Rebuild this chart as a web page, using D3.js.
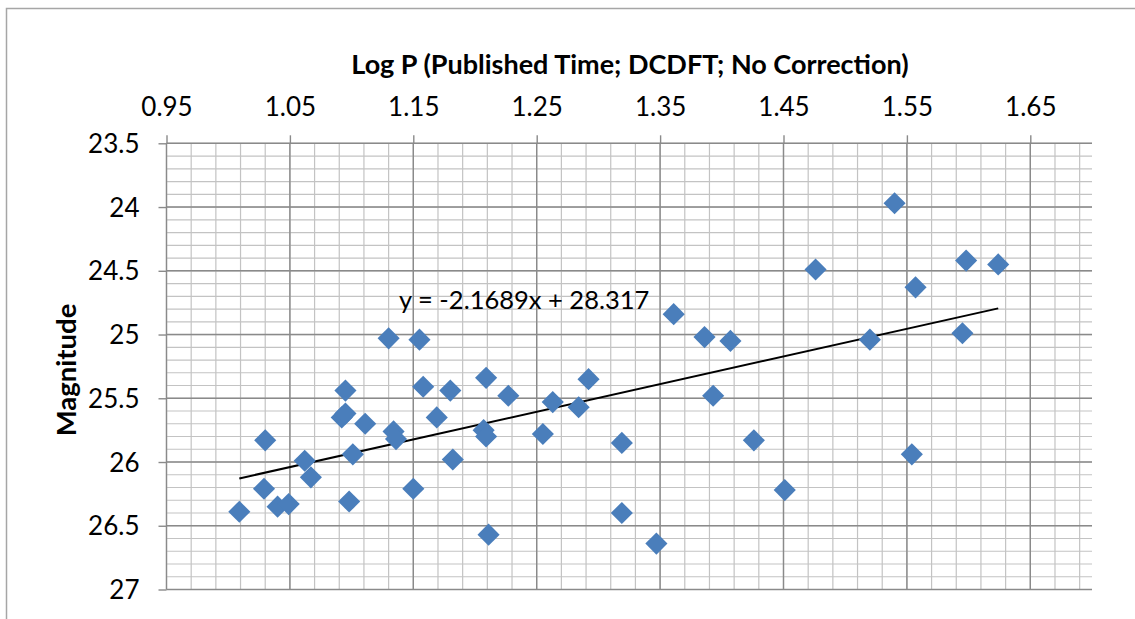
<!DOCTYPE html>
<html>
<head>
<meta charset="utf-8">
<script src="https://cdn.jsdelivr.net/npm/d3@7"></script>
<style>
  body { margin: 0; background: #fff; }
  text { font-family: Lato, "Open Sans", sans-serif; fill: #000; }
</style>
</head>
<body>
<div id="chart"></div>
<script>
// log P values (x)
var logP = [
  1.009, 1.030, 1.029, 1.040, 1.049, 1.062, 1.067, 1.098, 1.095, 1.092,
  1.095, 1.101, 1.111, 1.130, 1.134, 1.136, 1.150, 1.155, 1.158, 1.169,
  1.180, 1.182, 1.209, 1.207, 1.209, 1.211, 1.227, 1.255, 1.263, 1.284,
  1.292, 1.319, 1.319, 1.347, 1.361, 1.386, 1.393, 1.407, 1.426, 1.451,
  1.476, 1.520, 1.540, 1.554, 1.557, 1.595, 1.598, 1.624
];
// magnitudes (y)
var magnitude = [
  26.39, 25.83, 26.21, 26.35, 26.33, 25.99, 26.12, 26.31, 25.44, 25.65,
  25.62, 25.94, 25.70, 25.03, 25.76, 25.82, 26.21, 25.04, 25.41, 25.65,
  25.44, 25.98, 25.34, 25.75, 25.80, 26.57, 25.48, 25.78, 25.53, 25.57,
  25.35, 25.85, 26.40, 26.64, 24.84, 25.02, 25.48, 25.05, 25.83, 26.22,
  24.49, 25.04, 23.97, 25.94, 24.63, 24.99, 24.42, 24.45
];
var xTicks = [0.95, 1.05, 1.15, 1.25, 1.35, 1.45, 1.55, 1.65];
var yTicks = [23.5, 24, 24.5, 25, 25.5, 26, 26.5, 27];
var trendSlope = -2.1689, trendIntercept = 28.317;

var W = 1135, H = 619;
var margin = { left: 166.5, top: 143.3, right: W - 1092, bottom: H - 589.5 };
var width = W - margin.left - margin.right,
  height = H - margin.top - margin.bottom;

var svg = d3.select("#chart").append("svg")
  .attr("width", W).attr("height", H);

// chart border (runs off the right/bottom edges like the original)
svg.append("rect")
  .attr("x", 6.5).attr("y", 8.5)
  .attr("width", W + 20).attr("height", H + 20)
  .attr("fill", "#fff").attr("stroke", "#a6a6a6").attr("stroke-width", 1.5);

var g = svg.append("g")
  .attr("transform", "translate(" + margin.left + "," + margin.top + ")");

var x = d3.scaleLinear().domain([0.95, 1.70]).range([0, width]);
var y = d3.scaleLinear().domain([23.5, 27]).range([0, height]);

// minor grid
var xMinor = d3.range(0, 38).map(function (i) { return +(0.95 + i * 0.02).toFixed(2); });
var yMinor = d3.range(0, 36).map(function (i) { return +(23.5 + i * 0.1).toFixed(1); });

g.selectAll(".vminor").data(xMinor).enter().append("line")
  .attr("x1", function (d) { return x(d); }).attr("x2", function (d) { return x(d); })
  .attr("y1", 0).attr("y2", height)
  .attr("stroke", "#c3c3c3").attr("stroke-width", 1.2);
g.selectAll(".hminor").data(yMinor).enter().append("line")
  .attr("y1", function (d) { return y(d); }).attr("y2", function (d) { return y(d); })
  .attr("x1", 0).attr("x2", width)
  .attr("stroke", "#c3c3c3").attr("stroke-width", 1.2);

// major grid
g.selectAll(".vmajor").data(xTicks).enter().append("line")
  .attr("x1", function (d) { return x(d); }).attr("x2", function (d) { return x(d); })
  .attr("y1", 0).attr("y2", height)
  .attr("stroke", "#8a8a8a").attr("stroke-width", 1.4);
g.selectAll(".hmajor").data(yTicks).enter().append("line")
  .attr("y1", function (d) { return y(d); }).attr("y2", function (d) { return y(d); })
  .attr("x1", 0).attr("x2", width)
  .attr("stroke", "#8a8a8a").attr("stroke-width", 1.4);

// axes on top and left
var xAxis = d3.axisTop(x).tickValues(xTicks).tickSize(8).tickPadding(19)
  .tickFormat(d3.format(".2f"));
var yAxis = d3.axisLeft(y).tickValues(yTicks).tickSize(8).tickPadding(19)
  .tickFormat(function (d) { return String(d); });

var gx = g.append("g").call(xAxis);
var gy = g.append("g").call(yAxis);
[gx, gy].forEach(function (a) {
  a.select(".domain").remove();
  a.selectAll("line").attr("stroke", "#8a8a8a").attr("stroke-width", 1.4);
  a.selectAll("text").style("font-size", "26px").attr("fill", "#000");
});
gx.selectAll("text").attr("dy", 0);
gy.selectAll("text").attr("dy", "0.35em");

// trend line
var xExt = d3.extent(logP);
g.append("line")
  .attr("x1", x(xExt[0])).attr("y1", y(trendSlope * xExt[0] + trendIntercept))
  .attr("x2", x(xExt[1])).attr("y2", y(trendSlope * xExt[1] + trendIntercept))
  .attr("stroke", "#000").attr("stroke-width", 2);

// points
var diamond = d3.symbol().type(d3.symbolSquare).size(245);
g.selectAll(".pt").data(logP).enter().append("path")
  .attr("d", diamond)
  .attr("transform", function (d, i) {
    return "translate(" + x(d) + "," + y(magnitude[i]) + ") rotate(45)";
  })
  .attr("fill", "#4a7ebb");

// equation label
svg.append("text")
  .attr("x", 399).attr("y", 309)
  .style("font-size", "25.5px")
  .text("y = -2.1689x + 28.317");

// titles
svg.append("text")
  .attr("x", 630).attr("y", 74)
  .attr("text-anchor", "middle")
  .style("font-size", "27px").style("font-weight", "bold")
  .text("Log P (Published Time; DCDFT; No Correction)");

svg.append("text")
  .attr("transform", "translate(76,370) rotate(-90)")
  .attr("text-anchor", "middle")
  .style("font-size", "27.5px").style("font-weight", "bold")
  .text("Magnitude");
</script>
</body>
</html>
